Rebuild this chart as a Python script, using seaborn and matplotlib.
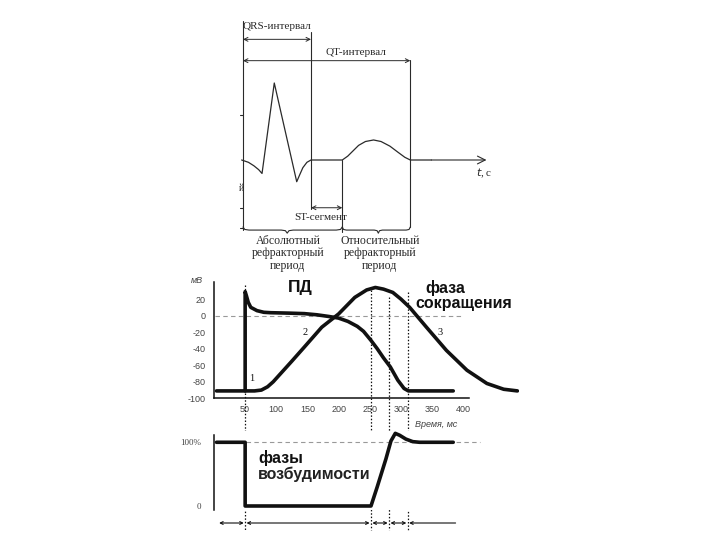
import matplotlib
matplotlib.use('Agg')
import matplotlib.pyplot as plt
import seaborn as sns
import numpy as np

# ---- top panel: ECG (time in s, amplitude with R = 1) ----
ecg_t = [-0.002, 0.008, 0.016, 0.023, 0.028, 0.046, 0.079, 0.083, 0.088, 0.094, 0.100,
         0.146, 0.154, 0.162, 0.170, 0.180, 0.192, 0.203, 0.216, 0.228, 0.238, 0.246, 0.277]
ecg_v = [0, -0.03, -0.075, -0.125, -0.175, 1.0, -0.282, -0.20, -0.10, -0.03, 0,
         0, 0.05, 0.12, 0.19, 0.24, 0.26, 0.24, 0.18, 0.10, 0.035, 0, 0]
qrs_span = (0.0, 0.100)
qt_span = (0.0, 0.246)
st_span = (0.100, 0.146)

# ---- middle panel: action potential and contraction (ms, mV) ----
ap_t = [4, 50, 50, 52, 55, 59, 64, 69, 80, 91, 120, 145, 165, 184, 200, 215, 230,
        240, 252, 262, 272, 283, 295, 305, 312, 384]
ap_v = [-91, -91, 29, 24, 16, 10, 8, 6, 4, 3.5, 3, 2.4, 1, -1, -3, -7, -13,
        -19, -30, -40, -51, -62, -78, -88, -91, -91]
con_t = [50, 65, 76, 86, 95, 107, 125, 145, 173, 200, 226, 245, 259, 272, 287, 300,
         314, 341, 373, 406, 438, 465, 487]
con_v = [-91, -91, -90, -86, -80, -70, -55, -38, -14, 2, 22, 31, 34, 32, 28, 20,
         10, -14, -42, -66, -82, -89, -91]

# ---- bottom panel: excitability (ms, %) ----
exc_t = [4, 50, 50, 252, 262, 276, 284, 291, 298, 308, 319, 330, 384]
exc_v = [100, 100, 0, 0, 30, 74, 102, 114, 111, 105, 101, 100, 100]

events = [50, 252, 281, 311]          # vertical dotted lines
event_top = [37, 31, 22, 28]          # mV where they start
periods = [6, 50, 252, 281, 311, 390]  # arrow segments under the chart

mv_ticks = [20, 0, -20, -40, -60, -80, -100]
ms_ticks = [50, 100, 150, 200, 250, 300, 350, 400]

sns.set_theme(style='white')
plt.rcParams['font.family'] = ['Liberation Sans', 'DejaVu Sans']

fig = plt.figure(figsize=(7.2, 5.4), dpi=100)
ink = '#111111'
gray = '#444444'
serif = ['Liberation Serif', 'DejaVu Serif']

# ================= top: ECG =================
ax0 = fig.add_axes([230 / 720, 1 - 275 / 540, 270 / 720, 265 / 540])
ax0.set_xlim(-0.0191, 0.3779)
ax0.set_ylim(-1.4935, 1.948)
ax0.axis('off')
top_c = '#2a2a2a'
sns.lineplot(x=ecg_t, y=ecg_v, ax=ax0, sort=False, estimator=None, color=top_c, lw=0.9)
ax0.annotate('', xy=(0.358, 0), xytext=(0.277, 0),
             arrowprops=dict(arrowstyle='->', lw=0.8, color=top_c, mutation_scale=14,
                             shrinkA=0, shrinkB=0))
# vertical guides
ax0.plot([0, 0], [1.80, -0.91], color=top_c, lw=0.8)
ax0.plot([qrs_span[1]] * 2, [1.666, -0.64], color=top_c, lw=0.8)
ax0.plot([st_span[1]] * 2, [0, -0.93], color=top_c, lw=0.8)
ax0.plot([qt_span[1]] * 2, [1.30, -0.87], color=top_c, lw=0.8)
for (a, b), yv in [(qrs_span, 1.567), (qt_span, 1.29), (st_span, -0.62)]:
    ax0.annotate('', xy=(b, yv), xytext=(a, yv),
                 arrowprops=dict(arrowstyle='<->', lw=0.7, color=top_c, mutation_scale=7,
                                 shrinkA=0, shrinkB=0))
for yv in [0.584, -0.623, -0.883]:
    ax0.plot([-0.0044, 0], [yv, yv], color=top_c, lw=0.8)
ax0.text(0.001, -0.364, 'й', family=serif, fontsize=7, color=top_c, ha='right', va='center')
ax0.text(0.0, 1.74, 'QRS-интервал', family=serif, fontsize=8, color=top_c, ha='left', va='center')
ax0.text(0.166, 1.39, 'QT-интервал', family=serif, fontsize=8, color=top_c, ha='center', va='center')
ax0.text(0.115, -0.75, 'ST-сегмент', family=serif, fontsize=8, color=top_c, ha='center', va='center')
ax0.text(0.343, -0.17, '$t$, с', family=serif, fontsize=8, color=top_c, ha='left', va='center')


def brace(ax, x0, x1, tip, y, h):
    s = (x1 - x0) * 0.06
    xs = [x0, x0 + 0.3 * s, x0 + s, tip - s, tip - 0.3 * s, tip,
          tip + 0.3 * s, tip + s, x1 - s, x1 - 0.3 * s, x1]
    ys = [y, y - 0.4 * h, y - 0.5 * h, y - 0.5 * h, y - 0.6 * h, y - h,
          y - 0.6 * h, y - 0.5 * h, y - 0.5 * h, y - 0.4 * h, y]
    ax.plot(xs, ys, color=top_c, lw=0.8)


brace(ax0, 0.0, st_span[1], 0.065, -0.87, 0.08)
brace(ax0, st_span[1], qt_span[1], 0.199, -0.87, 0.08)
ax0.text(0.066, -0.97, 'Абсолютный\nрефракторный\nпериод', family=serif, fontsize=8.5,
         color=top_c, ha='center', va='top', linespacing=1.05)
ax0.text(0.2015, -0.97, 'Относительный\nрефракторный\nпериод', family=serif, fontsize=8.5,
         color=top_c, ha='center', va='top', linespacing=1.05)

# ================= middle: AP + contraction =================
ax1 = fig.add_axes([214 / 720, 0.2623, 490 * 0.623 / 720, 0.2176])
ax1.set_xlim(0, 490)
ax1.set_ylim(-100, 42)
sns.lineplot(x=ap_t, y=ap_v, ax=ax1, sort=False, estimator=None, color=ink, lw=2.6)
sns.lineplot(x=con_t, y=con_v, ax=ax1, sort=False, estimator=None, color=ink, lw=2.6)
ax1.plot([2, 400], [0, 0], color='#999999', lw=0.8, ls=(0, (4, 3)), zorder=0)
for xe, yt in zip(events, event_top):
    ax1.plot([xe, xe], [yt, -259], color=ink, lw=0.9, ls=(0, (1.2, 1.5)), clip_on=False)
for s in ['top', 'right']:
    ax1.spines[s].set_visible(False)
ax1.spines['left'].set_bounds(-100, 41)
ax1.spines['bottom'].set_bounds(0, 410)
for s in ['left', 'bottom']:
    ax1.spines[s].set_color(ink)
    ax1.spines[s].set_linewidth(1.1)
ax1.set_yticks(mv_ticks)
ax1.set_yticklabels([f'{v}' for v in mv_ticks])
ax1.set_xticks(ms_ticks)
ax1.tick_params(axis='y', direction='in', length=5, width=0.8, color=gray,
                labelsize=6.5, labelcolor=gray, pad=6)
ax1.tick_params(axis='x', direction='in', length=3, width=0.8, color=gray,
                labelsize=6.5, labelcolor=gray, pad=5)
ax1.grid(False)
ax1.text(-27, 42, 'мВ', fontsize=6.5, color=gray, style='italic', ha='center', va='center')
ax1.text(356, -132, 'Время, мс', fontsize=6.5, color=gray, style='italic', ha='center', va='center')
ax1.text(138, 34, 'ПД', fontsize=12.5, weight='bold', color=ink, ha='center', va='center')
ax1.text(339, 33, 'фаза', fontsize=11.5, weight='bold', color=ink, ha='left', va='center')
ax1.text(323, 15, 'сокращения', fontsize=11.5, weight='bold', color=ink, ha='left', va='center')
ax1.text(60.5, -76, '1', family=serif, fontsize=7.5, color=ink, ha='center', va='center')
ax1.text(146, -21, '2', family=serif, fontsize=7.5, color=ink, ha='center', va='center')
ax1.text(363, -21, '3', family=serif, fontsize=7.5, color=ink, ha='center', va='center')

# ================= bottom: excitability =================
ax2 = fig.add_axes([214 / 720, 0.0559, 490 * 0.623 / 720, 0.1463])
ax2.set_xlim(0, 490)
ax2.set_ylim(-6, 118)
sns.lineplot(x=exc_t, y=exc_v, ax=ax2, sort=False, estimator=None, color=ink, lw=2.6)
ax2.plot([2, 427], [100, 100], color='#999999', lw=0.8, ls=(0, (4, 3)), zorder=0)
for s in ['top', 'right', 'bottom']:
    ax2.spines[s].set_visible(False)
ax2.spines['left'].set_bounds(-6, 112)
ax2.spines['left'].set_color(ink)
ax2.spines['left'].set_linewidth(1.1)
ax2.set_xticks([])
ax2.set_yticks([0, 100])
ax2.set_yticklabels(['0', '100%'], family=serif)
ax2.tick_params(axis='y', direction='out', length=4, width=0.8, color=gray,
                labelsize=6.5, labelcolor=gray, pad=5)
ax2.grid(False)
ax2.text(71, 75, 'фазы', fontsize=11.5, weight='bold', color=ink, ha='left', va='center')
ax2.text(71, 50, 'возбудимости', fontsize=11.5, weight='bold', color='#222222',
         ha='left', va='center')
for i in range(len(periods) - 1):
    style = '<->' if i < len(periods) - 2 else '<-'
    ax2.annotate('', xy=(periods[i + 1], -26.7), xytext=(periods[i], -26.7),
                 annotation_clip=False,
                 arrowprops=dict(arrowstyle=style, lw=0.8, color=ink, mutation_scale=5,
                                 shrinkA=1, shrinkB=1))

fig.savefig('out.png', dpi=100)
